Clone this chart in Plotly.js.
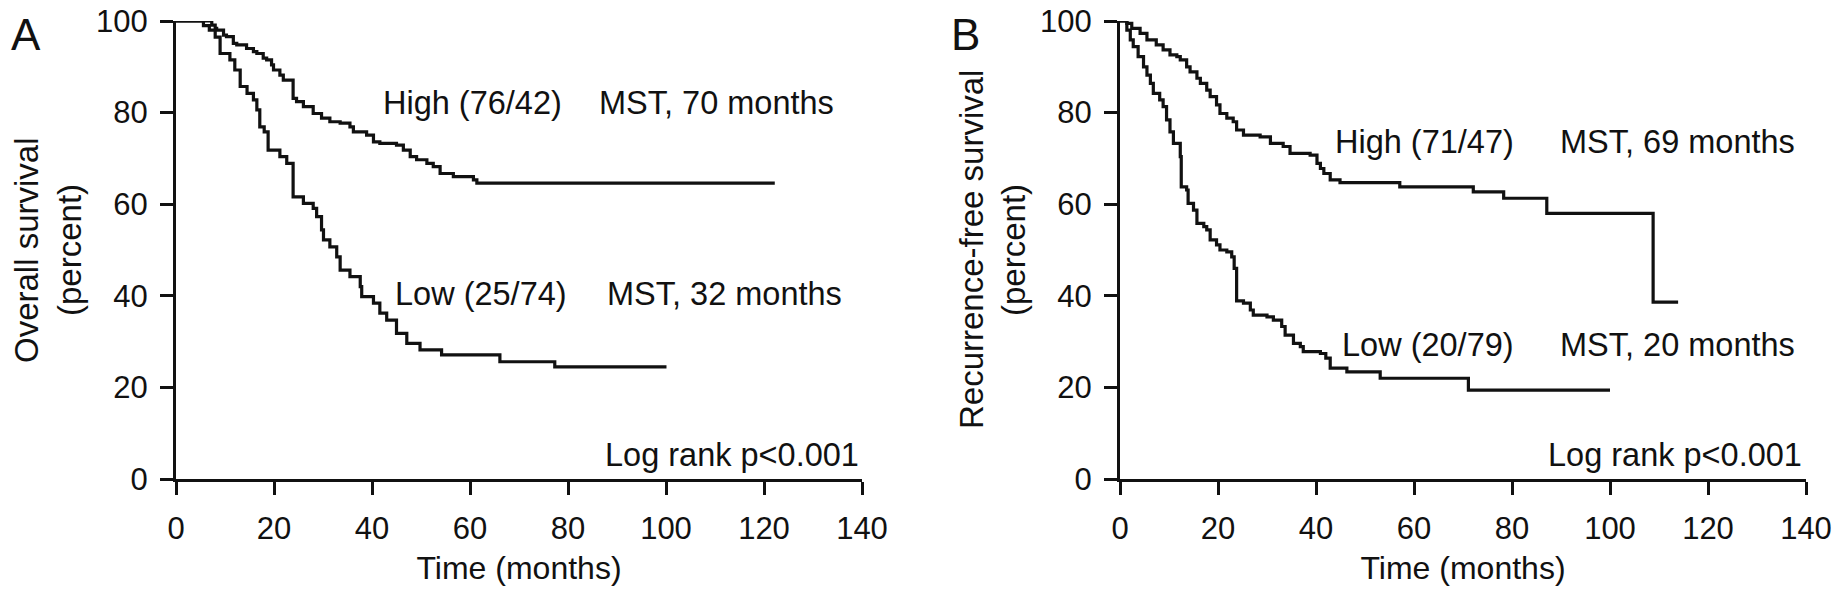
<!DOCTYPE html>
<html>
<head>
<meta charset="utf-8">
<script src="https://cdn.plot.ly/plotly-3.0.1.min.js"></script>
<style>html,body{margin:0;padding:0;background:#fff;}#chart{width:1838px;height:596px;}</style>
</head>
<body>
<div id="chart"></div>
<script>
// ---- Data (months, percent surviving) ----
const xTicks = [0, 20, 40, 60, 80, 100, 120, 140];
const yTicks = [0, 20, 40, 60, 80, 100];

// Panel A: Overall survival
const osHighTime = [0, 7.3, 8.0, 8.3, 9.7, 10.3, 11.7, 12.4, 14.4, 15.8, 16.5, 17.8, 18.5, 19.5, 19.9, 21.2, 21.9, 23.9, 24.6, 26.0, 28.0, 29.7, 31.4, 33.5, 35.5, 36.2, 38.9, 40.3, 41.6, 45.0, 46.4, 47.8, 49.1, 51.2, 52.5, 53.9, 56.6, 60.7, 61.4, 122.2];
const osHighSurv = [100, 99.1, 98.4, 98.0, 96.9, 96.6, 95.1, 94.8, 94.0, 93.3, 92.9, 91.9, 91.5, 90.4, 89.3, 88.2, 87.1, 83.1, 82.4, 81.3, 79.8, 78.8, 78.0, 77.7, 76.9, 75.8, 75.1, 73.6, 73.3, 72.9, 71.8, 70.4, 69.7, 68.9, 68.2, 66.7, 66.0, 65.3, 64.6, 64.6];
const osLowTime = [0, 5.6, 6.8, 8.0, 9.0, 11.0, 12.0, 13.1, 14.5, 15.8, 16.5, 17.1, 18.0, 18.8, 21.2, 22.6, 23.9, 26.0, 28.0, 28.7, 29.7, 30.1, 31.4, 32.8, 33.5, 35.5, 37.6, 37.9, 40.3, 41.6, 43.0, 45.0, 47.1, 49.8, 54.2, 66.1, 77.3, 100.1];
const osLowSurv = [100, 99.0, 98.0, 96.5, 92.9, 91.5, 89.3, 85.7, 84.2, 82.8, 80.6, 76.9, 75.8, 71.8, 70.4, 68.9, 61.6, 60.2, 59.1, 57.3, 54.4, 52.2, 50.7, 48.5, 45.6, 44.2, 42.0, 39.8, 38.4, 36.2, 34.7, 31.8, 29.6, 28.2, 27.1, 25.6, 24.5, 24.5];

// Panel B: Recurrence-free survival
const rfsHighTime = [0, 1.4, 2.4, 4.1, 5.5, 7.4, 8.8, 10.2, 11.6, 12.3, 13.6, 14.3, 15.7, 16.4, 17.7, 18.4, 19.7, 20.4, 21.8, 23.1, 23.8, 25.2, 28.6, 30.7, 33.3, 34.7, 38.8, 40.2, 40.9, 41.6, 42.9, 44.9, 57.1, 72.1, 78.3, 87.1, 108.8, 113.9];
const rfsHighSurv = [100, 99.5, 98.4, 97.3, 95.9, 94.8, 93.7, 92.6, 92.2, 91.5, 90.0, 88.9, 87.5, 86.4, 84.9, 83.5, 81.7, 79.8, 78.8, 78.0, 76.2, 75.1, 74.7, 73.3, 72.6, 71.1, 70.7, 68.9, 67.8, 66.7, 65.3, 64.7, 63.8, 62.7, 61.3, 58.0, 38.6, 38.6];
const rfsLowTime = [0, 1.4, 2.1, 2.7, 3.7, 4.8, 5.5, 6.2, 6.8, 8.1, 8.8, 9.5, 10.2, 10.9, 12.3, 12.5, 13.6, 13.9, 15.0, 15.7, 17.1, 17.7, 18.4, 19.7, 20.4, 21.8, 22.8, 23.3, 23.8, 25.2, 26.6, 27.2, 30.0, 31.3, 33.0, 33.7, 35.4, 36.8, 37.4, 40.9, 42.0, 42.9, 46.3, 53.1, 71.1, 100];
const rfsLowSurv = [100, 98.0, 95.9, 94.4, 92.2, 90.0, 88.2, 86.4, 84.2, 82.8, 81.3, 78.4, 75.8, 73.3, 70.4, 63.8, 63.1, 60.2, 58.7, 55.8, 55.1, 54.4, 52.2, 51.1, 50.0, 49.6, 48.5, 46.0, 38.9, 38.4, 36.9, 35.8, 35.4, 34.7, 33.3, 31.4, 29.6, 28.9, 27.8, 27.4, 26.4, 24.2, 23.4, 22.0, 19.4, 19.4];

// Text labels
const panelLabels = ['A', 'B'];
const osGroupLabels = ['High (76/42)', 'Low (25/74)'];
const osMstLabels = ['MST, 70 months', 'MST, 32 months'];
const rfsGroupLabels = ['High (71/47)', 'Low (20/79)'];
const rfsMstLabels = ['MST, 69 months', 'MST, 20 months'];
const pLabel = 'Log rank p<0.001';
const xTitle = 'Time (months)';
const osYTitle = ['Overall survival', '(percent)'];
const rfsYTitle = ['Recurrence-free survival', '(percent)'];

// ---- Styling ----
const FONT = 'Arial, "Liberation Sans", Helvetica, sans-serif';
const INK = '#111111';
const W = 1838, H = 596;
const line = {color: INK, width: 3.2, shape: 'hv'};

function km(x, y, xa, ya, name) {
  return {x: x, y: y, xaxis: xa, yaxis: ya, type: 'scatter', mode: 'lines', line: line, name: name, showlegend: false, hoverinfo: 'x+y'};
}

const traces = [
  km(osHighTime, osHighSurv, 'x', 'y', 'High'),
  km(osLowTime, osLowSurv, 'x', 'y', 'Low'),
  km(rfsHighTime, rfsHighSurv, 'x2', 'y2', 'High'),
  km(rfsLowTime, rfsLowSurv, 'x2', 'y2', 'Low')
];

const yDom = [1 - 479 / H, 1 - 21 / H];
function xAxis(domain, anchor) {
  return {
    domain: domain, anchor: anchor, range: [0, 140], tickvals: xTicks, ticktext: xTicks.map(String),
    showline: true, linewidth: 3, linecolor: INK, ticks: 'outside', ticklen: 13, tickwidth: 3, tickcolor: INK,
    showgrid: false, zeroline: false, fixedrange: true,
    tickfont: {family: FONT, size: 31, color: INK}, ticklabelstandoff: 7,
    title: {text: xTitle, font: {family: FONT, size: 32, color: INK}, standoff: 12}
  };
}
function yAxis(domain, anchor) {
  return {
    domain: domain, anchor: anchor, range: [0, 100], tickvals: yTicks, ticktext: yTicks.map(String),
    showline: true, linewidth: 3, linecolor: INK, ticks: 'outside', ticklen: 13, tickwidth: 3, tickcolor: INK,
    showgrid: false, zeroline: false, fixedrange: true,
    tickfont: {family: FONT, size: 31, color: INK}, ticklabelstandoff: 6
  };
}

const ann = [];
function txt(xref, yref, x, y, text, xanchor, size) {
  ann.push({xref: xref, yref: yref, x: x, y: y, text: text, showarrow: false, xanchor: xanchor, yanchor: 'middle',
    font: {family: FONT, size: size || 32.5, color: INK}});
}
function ytitle(xpx, text) {
  ann.push({xref: 'paper', yref: 'paper', x: xpx / W, y: 1 - 250 / H, text: text, textangle: -90, showarrow: false,
    xanchor: 'center', yanchor: 'middle', font: {family: FONT, size: 33, color: INK}});
}
// Panel A annotations
txt('x', 'y', 41.8, 82.1, osGroupLabels[0], 'left');
txt('x', 'y', 85.9, 82.1, osMstLabels[0], 'left');
txt('x', 'y', 44.3, 40.4, osGroupLabels[1], 'left');
txt('x', 'y', 87.6, 40.4, osMstLabels[1], 'left');
txt('x', 'y', 139.8, 5.2, pLabel, 'right');
// Panel B annotations
txt('x2', 'y2', 43.5, 73.6, rfsGroupLabels[0], 'left');
txt('x2', 'y2', 89.4, 73.6, rfsMstLabels[0], 'left');
txt('x2', 'y2', 44.9, 29.3, rfsGroupLabels[1], 'left');
txt('x2', 'y2', 89.4, 29.3, rfsMstLabels[1], 'left');
txt('x2', 'y2', 139.6, 5.2, pLabel, 'right');
// Y-axis titles (two lines each)
ytitle(26, osYTitle[0]);
ytitle(69, osYTitle[1]);
ytitle(971, rfsYTitle[0]);
ytitle(1013, rfsYTitle[1]);
// Panel letters
ann.push({xref: 'paper', yref: 'paper', x: 9 / W, y: 1 - 8 / H, text: panelLabels[0], showarrow: false, xanchor: 'left', yanchor: 'top', font: {family: FONT, size: 44, color: INK}});
ann.push({xref: 'paper', yref: 'paper', x: 949 / W, y: 1 - 8 / H, text: panelLabels[1], showarrow: false, xanchor: 'left', yanchor: 'top', font: {family: FONT, size: 44, color: INK}});

const layout = {
  width: W, height: H,
  margin: {l: 0, r: 0, t: 0, b: 0, pad: 0},
  paper_bgcolor: '#ffffff', plot_bgcolor: '#ffffff',
  showlegend: false,
  font: {family: FONT, color: INK},
  xaxis: xAxis([176 / W, 862 / W], 'y'),
  yaxis: yAxis(yDom, 'x'),
  xaxis2: xAxis([1120 / W, 1806 / W], 'y2'),
  yaxis2: yAxis(yDom, 'x2'),
  annotations: ann
};

Plotly.newPlot('chart', traces, layout, {displayModeBar: false, staticPlot: true});
</script>
</body>
</html>
